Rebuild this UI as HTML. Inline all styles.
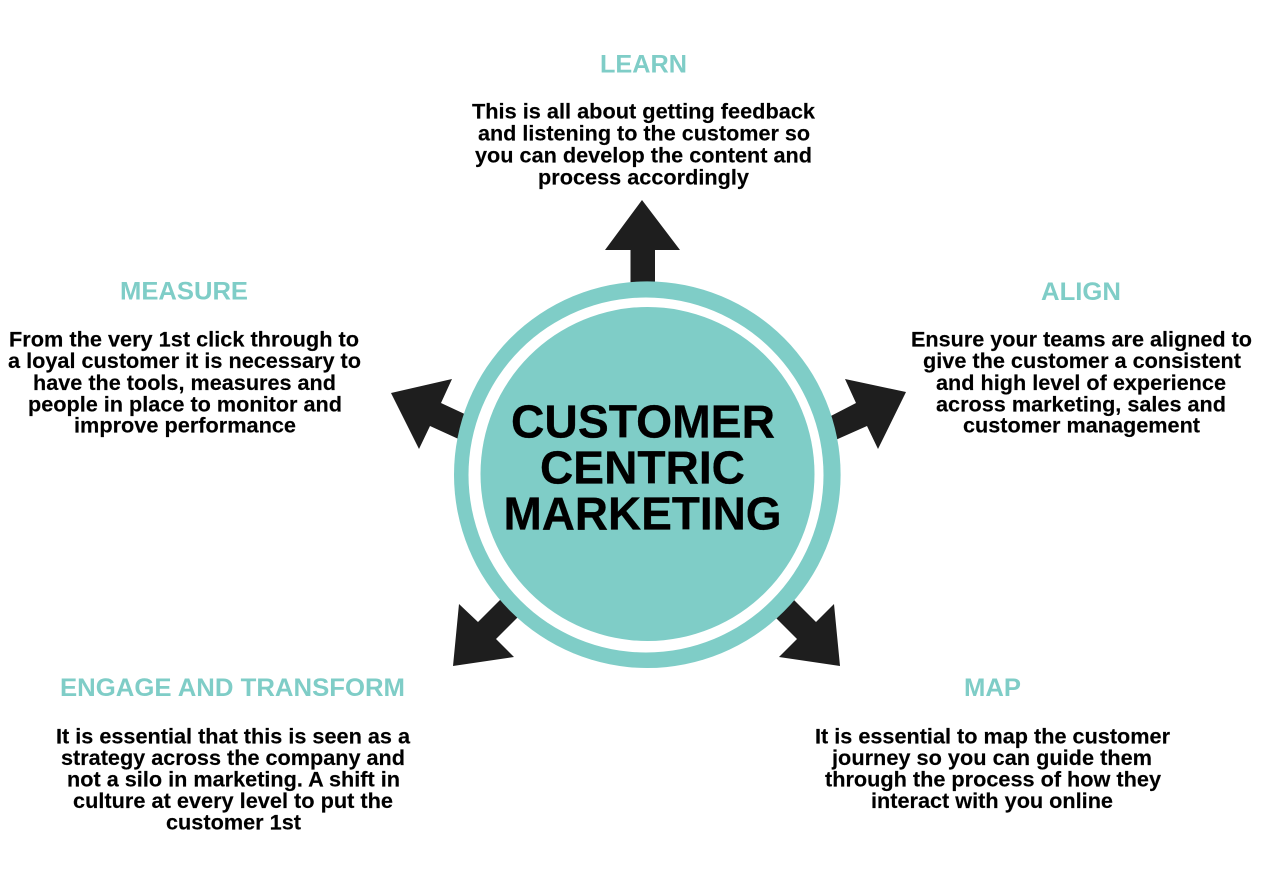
<!DOCTYPE html>
<html>
<head>
<meta charset="utf-8">
<style>
html,body{margin:0;padding:0;background:#fff}
svg{display:block}
text{font-family:"Liberation Sans",Arial,sans-serif;font-weight:700;text-anchor:middle}
.b{font-size:21px;fill:#000;stroke:#000;stroke-width:.15px}
.h{font-size:25px;fill:#7fcdc7}
.c{font-size:46.5px;fill:#000;stroke:#000;stroke-width:.3px}
</style>
</head>
<body>
<svg width="1280" height="873" viewBox="0 0 1280 873" xmlns="http://www.w3.org/2000/svg">
<rect width="1280" height="873" fill="#fff"/>
<g fill="#1e1e1e">
<polygon points="642,200 605,250 630.5,250 630.5,290 655,290 655,250 680,250"/>
<polygon points="391,393 452,379 441,403 470,416.5 464,441.5 430,426 419,449"/>
<polygon points="906,392 845,379 856,403 825,419 831,442 867,426 878,449"/>
<polygon points="453,666 459,604 478,622 503,597 520,615 496,639 514,657"/>
<polygon points="840,666 834,604 816,622 791,597 773,615 797,639 779,657"/>
</g>
<circle cx="647.3" cy="474.7" r="193.3" fill="#7fcdc7"/>
<circle cx="646" cy="475" r="177.5" fill="#fff"/>
<circle cx="647.5" cy="474" r="167" fill="#7fcdc7"/>
<text class="c" x="643" y="437.5" textLength="264" lengthAdjust="spacingAndGlyphs">CUSTOMER</text>
<text class="c" x="642.5" y="483.5" textLength="205" lengthAdjust="spacingAndGlyphs">CENTRIC</text>
<text class="c" x="642.5" y="529.5" textLength="278" lengthAdjust="spacingAndGlyphs">MARKETING</text>

<text class="h" x="643.5" y="72.5" textLength="87" lengthAdjust="spacingAndGlyphs">LEARN</text>
<text class="h" x="184" y="299.5" textLength="128" lengthAdjust="spacingAndGlyphs">MEASURE</text>
<text class="h" x="1081" y="300" textLength="80" lengthAdjust="spacingAndGlyphs">ALIGN</text>
<text class="h" x="232.5" y="696" textLength="345" lengthAdjust="spacingAndGlyphs">ENGAGE AND TRANSFORM</text>
<text class="h" x="992.5" y="696" textLength="57" lengthAdjust="spacingAndGlyphs">MAP</text>

<text class="b" x="643.5" y="118.5" textLength="343" lengthAdjust="spacingAndGlyphs">This is all about getting feedback</text>
<text class="b" x="644" y="140.5" textLength="332" lengthAdjust="spacingAndGlyphs">and listening to the customer so</text>
<text class="b" x="643.5" y="162.5" textLength="337" lengthAdjust="spacingAndGlyphs">you can develop the content and</text>
<text class="b" x="643.5" y="184.5" textLength="211" lengthAdjust="spacingAndGlyphs">process accordingly</text>

<text class="b" x="184" y="346.5" textLength="350" lengthAdjust="spacingAndGlyphs">From the very 1st click through to</text>
<text class="b" x="184.5" y="368" textLength="353" lengthAdjust="spacingAndGlyphs">a loyal customer it is necessary to</text>
<text class="b" x="184.5" y="390" textLength="303" lengthAdjust="spacingAndGlyphs">have the tools, measures and</text>
<text class="b" x="185" y="411.5" textLength="314" lengthAdjust="spacingAndGlyphs">people in place to monitor and</text>
<text class="b" x="185" y="432.5" textLength="222" lengthAdjust="spacingAndGlyphs">improve performance</text>

<text class="b" x="1081.5" y="346.5" textLength="341" lengthAdjust="spacingAndGlyphs">Ensure your teams are aligned to</text>
<text class="b" x="1082" y="368" textLength="318" lengthAdjust="spacingAndGlyphs">give the customer a consistent</text>
<text class="b" x="1081" y="390" textLength="290" lengthAdjust="spacingAndGlyphs">and high level of experience</text>
<text class="b" x="1081" y="411.5" textLength="290" lengthAdjust="spacingAndGlyphs">across marketing, sales and</text>
<text class="b" x="1081.5" y="432.5" textLength="237" lengthAdjust="spacingAndGlyphs">customer management</text>

<text class="b" x="233" y="743.5" textLength="354" lengthAdjust="spacingAndGlyphs">It is essential that this is seen as a</text>
<text class="b" x="233" y="765" textLength="344" lengthAdjust="spacingAndGlyphs">strategy across the company and</text>
<text class="b" x="233.5" y="786.5" textLength="333" lengthAdjust="spacingAndGlyphs">not a silo in marketing. A shift in</text>
<text class="b" x="233" y="808" textLength="320" lengthAdjust="spacingAndGlyphs">culture at every level to put the</text>
<text class="b" x="233.5" y="829.5" textLength="135" lengthAdjust="spacingAndGlyphs">customer 1st</text>

<text class="b" x="992.5" y="743.5" textLength="355" lengthAdjust="spacingAndGlyphs">It is essential to map the customer</text>
<text class="b" x="992" y="765" textLength="320" lengthAdjust="spacingAndGlyphs">journey so you can guide them</text>
<text class="b" x="993" y="786.5" textLength="336" lengthAdjust="spacingAndGlyphs">through the process of how they</text>
<text class="b" x="992" y="808" textLength="242" lengthAdjust="spacingAndGlyphs">interact with you online</text>
</svg>
</body>
</html>
